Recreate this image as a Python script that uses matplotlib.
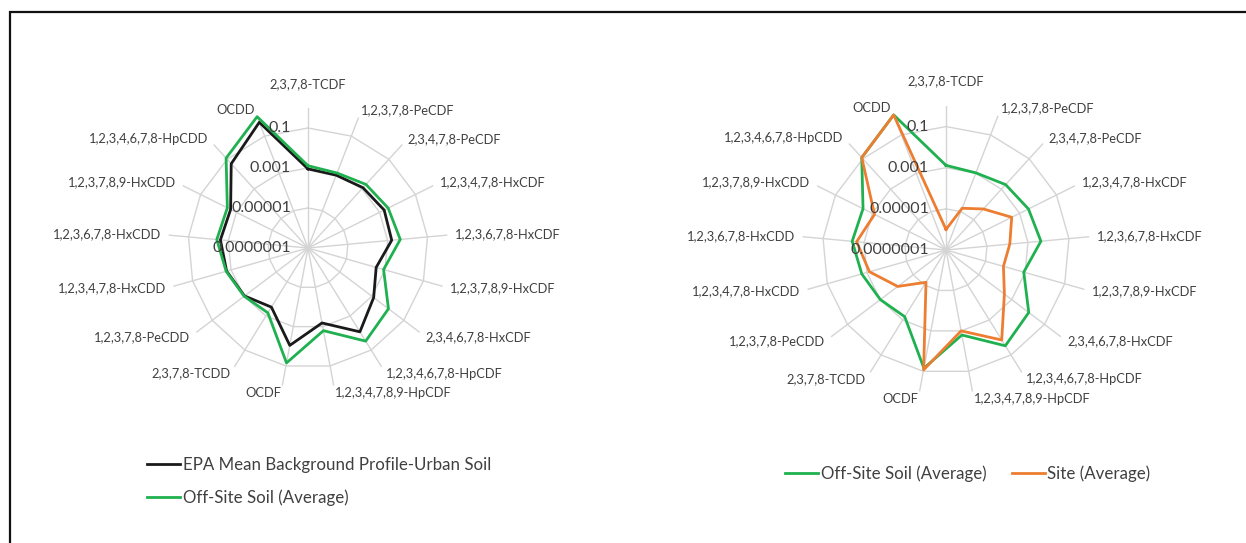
import matplotlib
matplotlib.use("Agg")
import matplotlib.pyplot as plt
from matplotlib.patches import Rectangle
import numpy as np

plt.rcParams["font.family"] = ["Lato", "DejaVu Sans"]

CONGENERS = [
    "2,3,7,8-TCDF", "1,2,3,7,8-PeCDF", "2,3,4,7,8-PeCDF", "1,2,3,4,7,8-HxCDF",
    "1,2,3,6,7,8-HxCDF", "1,2,3,7,8,9-HxCDF", "2,3,4,6,7,8-HxCDF",
    "1,2,3,4,6,7,8-HpCDF", "1,2,3,4,7,8,9-HpCDF", "OCDF", "2,3,7,8-TCDD",
    "1,2,3,7,8-PeCDD", "1,2,3,4,7,8-HxCDD", "1,2,3,6,7,8-HxCDD",
    "1,2,3,7,8,9-HxCDD", "1,2,3,4,6,7,8-HpCDD", "OCDD",
]

# congener fractions (log scale)
epa_urban = [9e-4, 8e-4, 1.2e-3, 1.8e-3, 1.6e-3, 3.5e-4, 1.3e-3, 8.5e-3, 6.5e-4,
             9e-3, 3e-4, 9.5e-4, 1.7e-3, 2.5e-3, 2.1e-3, 0.05, 0.55]
offsite_avg = [1.3e-3, 1.05e-3, 2.0e-3, 3.0e-3, 4.3e-3, 8.5e-4, 1.1e-2, 3.0e-2, 1.6e-3,
               7e-2, 6.5e-4, 1.0e-3, 1.8e-3, 3.8e-3, 3.2e-3, 0.12, 1.1]
site_avg = [1e-6, 1.5e-5, 5e-5, 3.7e-4, 1.3e-4, 8e-5, 3.6e-4, 1.4e-2, 1e-3,
            0.085, 7e-6, 8.7e-5, 7.4e-4, 2.3e-3, 7.6e-4, 0.12, 1.1]

RING_VALUES = [1e-7, 1e-5, 1e-3, 1e-1]
RING_LABELS = ["0.0000001", "0.00001", "0.001", "0.1"]
LOG_MIN = -7   # centre of the chart
LOG_MAX = 0    # end of the spokes

GREEN = "#1fb14f"
ORANGE = "#ed7d31"
BLACK = "#1a1a1a"
GRID = "#d4d4d4"
TEXT = "#404040"

W, H = 1246, 543
fig = plt.figure(figsize=(W / 100, H / 100), dpi=100)


def to_r(vals):
    return np.log10(np.asarray(vals, dtype=float)) - LOG_MIN


def radar(cx, cy, radius_px, series):
    ax = fig.add_axes([(cx - radius_px) / W, (H - cy - radius_px) / H,
                       2 * radius_px / W, 2 * radius_px / H], projection="polar")
    ax.set_theta_zero_location("N")
    ax.set_theta_direction(-1)
    ax.set_ylim(0, LOG_MAX - LOG_MIN)
    ax.grid(False)
    ax.spines["polar"].set_visible(False)
    ax.set_xticks([])
    ax.set_yticks([])
    ax.patch.set_alpha(0)

    n = len(CONGENERS)
    theta = np.arange(n) * 2 * np.pi / n
    closed = np.append(theta, theta[0])

    # polygon gridlines and spokes
    for v in RING_VALUES[1:]:
        r = to_r([v])[0]
        ax.plot(closed, np.full(n + 1, r), color=GRID, lw=1.0, zorder=1)
    for t in theta:
        ax.plot([t, t], [0, LOG_MAX - LOG_MIN], color=GRID, lw=1.0, zorder=1)

    lines = []
    for vals, color, label in series:
        r = to_r(vals)
        ln, = ax.plot(closed, np.append(r, r[0]), color=color, lw=2.0,
                      label=label, zorder=3, clip_on=False)
        lines.append(ln)

    # value axis labels, left of the vertical spoke
    for v, txt in zip(RING_VALUES, RING_LABELS):
        ax.annotate(txt, xy=(0, to_r([v])[0]), xytext=(-17, 0),
                    textcoords="offset pixels", ha="right", va="center",
                    fontsize=11.5, color=TEXT, zorder=4)

    # category labels around the rim
    rl = (LOG_MAX - LOG_MIN) * 1.055
    for t, name in zip(theta, CONGENERS):
        s = np.sin(t)
        if abs(s) < 0.05:
            ha = "center"
        elif s > 0:
            ha = "left"
        else:
            ha = "right"
        r_lab = rl
        va = "center"
        if np.cos(t) > 0.99:
            va = "bottom"
            r_lab = rl * 1.07
        ax.text(t, r_lab, name, ha=ha, va=va, fontsize=9.3, color=TEXT)
    return ax, lines


ax1, l1 = radar(308, 248, 140, [
    (epa_urban, BLACK, "EPA Mean Background Profile-Urban Soil"),
    (offsite_avg, GREEN, "Off-Site Soil (Average)"),
])
ax2, l2 = radar(946, 250, 144, [
    (offsite_avg, GREEN, "Off-Site Soil (Average)"),
    (site_avg, ORANGE, "Site (Average)"),
])

leg_kw = dict(frameon=False, fontsize=12.2, handlelength=1.95, handletextpad=0.15,
              labelcolor=TEXT, borderpad=0, borderaxespad=0)
fig.legend(handles=l1, loc="upper left", bbox_to_anchor=(147 / W, 1 - 457 / H),
           ncol=1, labelspacing=0.95, **leg_kw)
fig.legend(handles=l2, loc="upper left", bbox_to_anchor=(785 / W, 1 - 465 / H),
           ncol=2, columnspacing=1.5, **leg_kw)

# outer frame (top and left edges visible)
fig.patches.append(Rectangle((10 / W, -0.1), 2.0, 1 - 12 / H + 0.1,
                             transform=fig.transFigure, fill=False,
                             edgecolor="#111111", lw=1.6))

fig.savefig("out.png", dpi=100, facecolor="white")
